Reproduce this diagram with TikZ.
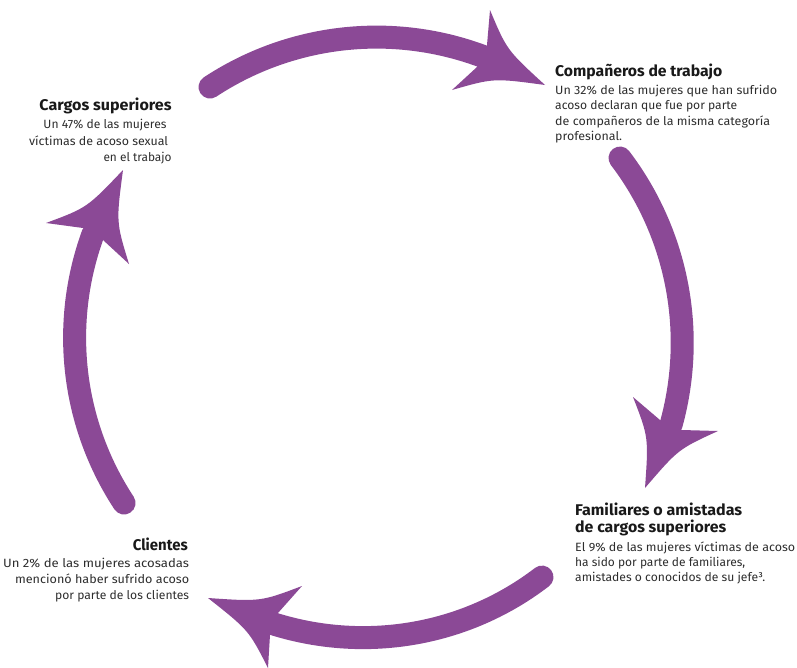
\documentclass[tikz,border=0pt]{standalone}
\usepackage{fontspec}
\usepackage{graphicx}
\setmainfont{Fira Sans}
\usetikzlibrary{calc}
\definecolor{arrowpurple}{RGB}{139,73,150}
\definecolor{titlecol}{RGB}{25,25,25}
\definecolor{bodycol}{RGB}{45,45,45}
\newcommand\arcstroke[4]{%
  \draw[arrowline] plot[domain=#1:#3, samples=120, variable=\t]
   ({376+(#2+((#4)-(#2))*((\t)-(#1))/((#3)-(#1)))*cos(\t)},
    {340-(#2+((#4)-(#2))*((\t)-(#1))/((#3)-(#1)))*sin(\t)});}
\newcommand\headshape[6]{% B1 N1 N2 B2 T I  (names)
  \fill[arrowpurple] (#1) -- (#2) -- (#3) -- (#4)
    .. controls ($($(#4)!0.5!(#5)$)!0.3!(#6)$) .. (#5)
    .. controls ($($(#5)!0.5!(#1)$)!0.3!(#6)$) .. (#1) -- cycle;}
\newcommand\fitw[2]{\resizebox{#1pt}{\height}{#2}}
\begin{document}
\begin{tikzpicture}[x=1pt,y=-1pt,
  arrowline/.style={draw=arrowpurple, line width=23pt, line cap=round},
  ttl/.style={inner sep=0pt, text=titlecol, font=\fontsize{15.5}{17}\selectfont\bfseries},
  bdy/.style={inner sep=0pt, text=bodycol, font=\fontsize{12}{15}\selectfont}]
\useasboundingbox (0,0) rectangle (797,667);
% strokes
\arcstroke{69.53}{303.1}{123.27}{302.6}
\arcstroke{-16.07}{307.0}{36.72}{304.4}
\arcstroke{-109.75}{301.8}{-55.0}{289.4}
\arcstroke{-200.54}{302.2}{-147.1}{300.1}
% top head
\coordinate (tB1) at (490,10); \coordinate (tN1) at (487,45);
\coordinate (tN2) at (477,67); \coordinate (tB2) at (452,90);
\coordinate (tT) at (545,85); \coordinate (tI) at (482,56);
\headshape{tB1}{tN1}{tN2}{tB2}{tT}{tI}
% right head
\coordinate (rB1) at (633,397); \coordinate (rN1) at (660,420);
\coordinate (rN2) at (682,430); \coordinate (rB2) at (718,431);
\coordinate (rT) at (645,488); \coordinate (rI) at (671,425);
\headshape{rB1}{rN1}{rN2}{rB2}{rT}{rI}
% bottom head
\coordinate (bB1) at (302,586); \coordinate (bN1) at (278,613);
\coordinate (bN2) at (270,635); \coordinate (bB2) at (268,668);
\coordinate (bT) at (208,598); \coordinate (bI) at (274,624);
\headshape{bB1}{bN1}{bN2}{bB2}{bT}{bI}
% left head
\coordinate (lB1) at (46,223); \coordinate (lN1) at (83,228);
\coordinate (lN2) at (103,240); \coordinate (lB2) at (129,264);
\coordinate (lT) at (123,170); \coordinate (lI) at (93,234);
\headshape{lB1}{lN1}{lN2}{lB2}{lT}{lI}
% Cargos superiores
\node[ttl, anchor=base east] (cs) at (171.7,110.5) {\fitw{132}{Cargos superiores}};
\node[bdy, anchor=base east] (cs1) at (166.7,128.5) {\fitw{123}{Un 47\% de las mujeres}};
\node[bdy, anchor=base east] (cs2) at (168.3,145) {\fitw{139}{víctimas de acoso sexual}};
\node[bdy, anchor=base east] (cs3) at (171.7,161) {\fitw{68}{en el trabajo}};
% Compañeros de trabajo
\node[ttl, anchor=base west] (ct) at (555,76.5) {\fitw{167}{Compañeros de trabajo}};
\node[bdy, anchor=base west] (ct1) at (555,94) {\fitw{222}{Un 32\% de las mujeres que han sufrido}};
\node[bdy, anchor=base west] (ct2) at (555,109.5) {\fitw{182}{acoso declaran que fue por parte}};
\node[bdy, anchor=base west] (ct3) at (555,125) {\fitw{215}{de compañeros de la misma categoría}};
\node[bdy, anchor=base west] (ct4) at (555,140) {\fitw{67}{profesional.}};
% Familiares
\node[ttl, anchor=base west] (fa) at (575,515) {\fitw{167}{Familiares o amistadas}};
\node[ttl, anchor=base west] (fb) at (575,532) {\fitw{151}{de cargos superiores}};
\node[bdy, anchor=base west] (f1) at (575,551) {\fitw{220}{El 9\% de las mujeres víctimas de acoso}};
\node[bdy, anchor=base west] (f2) at (575,566) {\fitw{170}{ha sido por parte de familiares,}};
\node[bdy, anchor=base west] (f3) at (575,581) {\fitw{190}{amistades o conocidos de su jefe³.}};
% Clientes
\node[ttl, anchor=base east] (cl) at (188,550.5) {\fitw{55}{Clientes}};
\node[bdy, anchor=base east] (cl1) at (189.3,567) {\fitw{186}{Un 2\% de las mujeres acosadas}};
\node[bdy, anchor=base east] (cl2) at (189.3,583) {\fitw{174}{mencionó haber sufrido acoso}};
\node[bdy, anchor=base east] (cl3) at (189.3,599) {\fitw{134}{por parte de los clientes}};
\end{tikzpicture}
\end{document}
